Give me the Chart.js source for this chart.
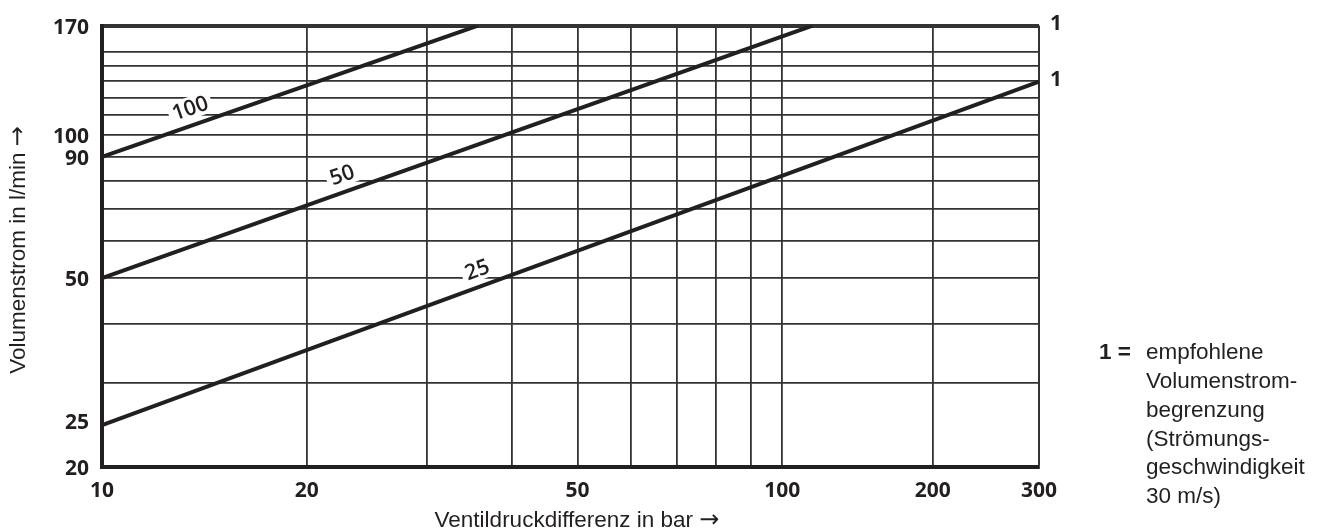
<!DOCTYPE html>
<html>
<head>
<meta charset="utf-8">
<script src="https://cdn.jsdelivr.net/npm/chart.js@4.4.1/dist/chart.umd.min.js"></script>
<style>
  html, body { margin: 0; padding: 0; background: #fff; }
  #wrap { width: 1334px; height: 532px; position: relative; }
</style>
</head>
<body>
<div id="wrap"><canvas id="c" width="1334" height="532"></canvas></div>
<script>
// ---- data ----
const curveLabels = ['100', '50', '25'];
const pressure100 = [10, 35.7];
const flow100 = [90, 170];
const pressure50 = [10, 115];
const flow50 = [50, 170];
const pressure25 = [10, 300];
const flow25 = [24.5, 129.5];
const labelAtPressure = [13.73, 22.97, 36.3];

const xGridValues = [10, 20, 30, 40, 50, 60, 70, 80, 90, 100, 200, 300];
const xTickLabels = [10, 20, 50, 100, 200, 300];
const yGridValues = [20, 25, 30, 40, 50, 60, 70, 80, 90, 100, 110, 120, 130, 140, 150, 170];
const yTickLabels = [20, 25, 50, 90, 100, 170];
const limitMarks = ['1', '1'];
const limitFlows = [170, 129.5];
const xTitle = 'Ventildruckdifferenz in bar';
const yTitle = 'Volumenstrom in l/min';
const titleArrow = '→';
const noteKey = '1 =';
const noteLines = ['empfohlene', 'Volumenstrom-', 'begrenzung', '(Strömungs-', 'geschwindigkeit', '30 m/s)'];

const INK = '#231f20';
const GRID = '#333333';
const TEXT_FONT = '"Liberation Sans", Arial, sans-serif';
const ARROW_FONT = '"DejaVu Sans", sans-serif';

// ---- a log scale whose decades are drawn with different lengths (as in the original) ----
class BrokenLogScale extends Chart.LogarithmicScale {
  _segs() { return this.options.breakpoints; }
  _toDecimal(v) {
    const b = this._segs();
    const lv = Math.log10(v);
    for (let i = 0; i < b.length - 1; i++) {
      if (v <= b[i + 1][0] || i === b.length - 2) {
        const l0 = Math.log10(b[i][0]), l1 = Math.log10(b[i + 1][0]);
        return b[i][1] + (lv - l0) / (l1 - l0) * (b[i + 1][1] - b[i][1]);
      }
    }
    return 0;
  }
  getPixelForValue(value) {
    if (value === undefined || value === 0) value = this.min;
    if (value === null || isNaN(value)) return NaN;
    return this.getPixelForDecimal(this._toDecimal(value));
  }
  getValueForPixel(pixel) {
    const d = this.getDecimalForPixel(pixel);
    const b = this._segs();
    for (let i = 0; i < b.length - 1; i++) {
      if (d <= b[i + 1][1] || i === b.length - 2) {
        const l0 = Math.log10(b[i][0]), l1 = Math.log10(b[i + 1][0]);
        return Math.pow(10, l0 + (d - b[i][1]) / (b[i + 1][1] - b[i][1]) * (l1 - l0));
      }
    }
    return this.min;
  }
}
BrokenLogScale.id = 'brokenLog';
BrokenLogScale.defaults = Chart.LogarithmicScale.defaults;
Chart.register(BrokenLogScale);

function pts(xs, ys) { return xs.map((x, i) => ({ x: x, y: ys[i] })); }

function drawTitle(ctx, text, cx, cy, rot) {
  ctx.save();
  ctx.translate(cx, cy);
  ctx.rotate(rot);
  ctx.fillStyle = INK;
  ctx.textBaseline = 'middle';
  ctx.textAlign = 'left';
  ctx.font = '22.5px ' + TEXT_FONT;
  const w1 = ctx.measureText(text + ' ').width;
  ctx.font = '24px ' + ARROW_FONT;
  const w2 = ctx.measureText(titleArrow).width;
  const x0 = -(w1 + w2) / 2;
  ctx.font = '22.5px ' + TEXT_FONT;
  ctx.fillText(text + ' ', x0, 0);
  ctx.font = '24px ' + ARROW_FONT;
  ctx.fillText(titleArrow, x0 + w1, 0);
  ctx.restore();
}

const annotate = {
  id: 'annotate',
  beforeDatasetsDraw(chart) {
    const ctx = chart.ctx;
    const xs = chart.scales.x;
    chart.data.datasets.forEach((ds, i) => {
      const meta = chart.getDatasetMeta(i);
      const p0 = meta.data[0], p1 = meta.data[meta.data.length - 1];
      const px = xs.getPixelForValue(labelAtPressure[i]);
      const t = (px - p0.x) / (p1.x - p0.x);
      const py = p0.y + t * (p1.y - p0.y);
      const ang = Math.atan2(p1.y - p0.y, p1.x - p0.x);
      ctx.save();
      ctx.translate(px, py);
      ctx.rotate(ang);
      ctx.translate(0, -17);
      ctx.font = '600 21.5px "Open Sans"';
      const w = ctx.measureText(curveLabels[i]).width;
      ctx.fillStyle = '#fff';
      ctx.fillRect(-w / 2 - 4, -11, w + 8, 22);
      ctx.fillStyle = INK;
      ctx.textAlign = 'center';
      ctx.textBaseline = 'middle';
      ctx.fillText(curveLabels[i], 0, 1);
      ctx.restore();
    });
  },
  afterDraw(chart) {
    const ctx = chart.ctx;
    const ys = chart.scales.y;
    const area = chart.chartArea;
    ctx.save();
    ctx.fillStyle = INK;
    ctx.textBaseline = 'middle';
    ctx.textAlign = 'left';
    ctx.font = 'bold 21px "Open Sans"';
    limitMarks.forEach((m, i) => {
      ctx.fillText(m, area.right + 11, ys.getPixelForValue(limitFlows[i]) - 2);
    });
    ctx.font = 'bold 22.5px ' + TEXT_FONT;
    ctx.fillText(noteKey, 1099, 353);
    ctx.font = '22.5px ' + TEXT_FONT;
    noteLines.forEach((s, i) => ctx.fillText(s, 1146, 353 + i * 28.8));
    ctx.restore();
    drawTitle(ctx, xTitle, 577, 521, 0);
    drawTitle(ctx, yTitle, 19, 250, -Math.PI / 2);
  }
};

new Chart(document.getElementById('c'), {
  type: 'line',
  data: {
    datasets: [
      { label: curveLabels[0], data: pts(pressure100, flow100) },
      { label: curveLabels[1], data: pts(pressure50, flow50) },
      { label: curveLabels[2], data: pts(pressure25, flow25) }
    ].map(d => Object.assign(d, {
      borderColor: INK, borderWidth: 4, pointRadius: 0, fill: false, tension: 0,
      borderCapStyle: 'butt'
    }))
  },
  options: {
    responsive: false,
    animation: false,
    layout: { padding: { top: 20, right: 295, bottom: 0, left: 0 } },
    plugins: { legend: { display: false }, tooltip: { enabled: false } },
    scales: {
      x: {
        type: 'brokenLog',
        position: 'bottom',
        min: 10, max: 300,
        breakpoints: [[10, 0], [100, 0.726], [200, 0.8866], [300, 1]],
        afterBuildTicks: (s) => { s.ticks = xGridValues.map(v => ({ value: v })); },
        afterFit: (s) => { s.height = 65; },
        ticks: {
          autoSkip: false, maxRotation: 0, padding: 11, color: INK,
          font: { family: 'Open Sans', size: 21, weight: 'bold' },
          callback: (v) => xTickLabels.includes(v) ? String(v) : ''
        },
        grid: {
          drawTicks: false, color: GRID,
          lineWidth: (c) => (c.tick && c.tick.value === 300) ? 2 : 1.8
        },
        border: { display: true, color: INK, width: 4 },
        title: { display: false, text: xTitle + ' ' + titleArrow }
      },
      y: {
        type: 'logarithmic',
        position: 'left',
        min: 20, max: 170,
        afterBuildTicks: (s) => { s.ticks = yGridValues.map(v => ({ value: v })); },
        afterFit: (s) => { s.width = 102; },
        ticks: {
          autoSkip: false, padding: 13, color: INK, labelOffset: 2,
          font: { family: 'Open Sans', size: 21, weight: 'bold' },
          callback: (v) => yTickLabels.includes(v) ? String(v) : ''
        },
        grid: {
          drawTicks: false,
          color: (c) => (c.tick && c.tick.value === 25) ? 'rgba(0,0,0,0)' : GRID,
          lineWidth: (c) => (c.tick && c.tick.value === 170) ? 4 : 1.8
        },
        border: { display: true, color: INK, width: 4 },
        title: { display: false, text: yTitle + ' ' + titleArrow }
      }
    }
  },
  plugins: [annotate]
});
</script>
</body>
</html>
